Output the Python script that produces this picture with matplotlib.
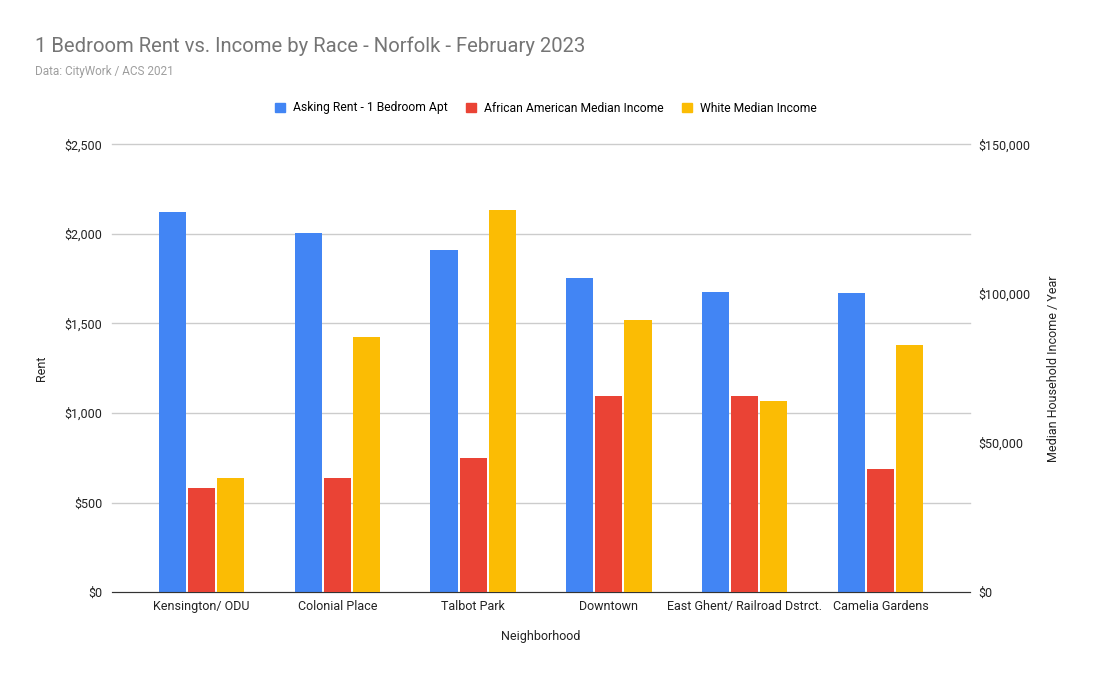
import matplotlib.pyplot as plt
import numpy as np
from matplotlib.patches import Patch
from matplotlib.ticker import FuncFormatter

plt.rcParams['font.family'] = ['Roboto', 'DejaVu Sans']

neighborhoods = ['Kensington/ ODU', 'Colonial Place', 'Talbot Park', 'Downtown',
                 'East Ghent/ Railroad Dstrct.', 'Camelia Gardens']
rent = [2123, 2006, 1911, 1754, 1676, 1670]
aa_income = [34860, 38300, 45000, 65700, 65700, 41230]
white_income = [38300, 85580, 128150, 91170, 64120, 82800]

blue = '#4285f4'
red = '#ea4335'
yellow = '#fbbc04'

fig = plt.figure(figsize=(10.93, 6.78), dpi=100)
ax = fig.add_axes([112/1093, 1 - 592/678, 858/1093, 447.5/678])
ax2 = ax.twinx()

x = np.arange(len(neighborhoods))
w = 0.2
off = 0.214
ax.bar(x - off, rent, w, color=blue, zorder=3)
ax2.bar(x, aa_income, w, color=red, zorder=3)
ax2.bar(x + off, white_income, w, color=yellow, zorder=3)

ax.set_xlim(-0.66, 5.66)
ax.set_ylim(0, 2500)
ax2.set_ylim(0, 150000)
ax.set_yticks(np.arange(0, 2501, 500))
ax2.set_yticks(np.arange(0, 150001, 50000))
ax.yaxis.set_major_formatter(FuncFormatter(lambda v, p: '${:,.0f}'.format(v)))
ax2.yaxis.set_major_formatter(FuncFormatter(lambda v, p: '${:,.0f}'.format(v)))
ax.grid(axis='y', color='#cccccc', linewidth=1, zorder=0)
ax.set_axisbelow(True)
for gl in ax.get_ygridlines():
    gl.set_clip_on(False)

for a in (ax, ax2):
    for s in a.spines.values():
        s.set_visible(False)
    a.tick_params(length=0, labelsize=9, colors='#222222')
ax.spines['bottom'].set_visible(True)
ax.spines['bottom'].set_color('#333333')
ax.spines['bottom'].set_zorder(5)
ax.tick_params(axis='y', pad=7)
ax2.tick_params(axis='y', pad=6)
ax.tick_params(axis='x', pad=6)

ax.set_xticks(x)
ax.set_xticklabels(neighborhoods)
ax.set_xlabel('Neighborhood', fontsize=9, color='#222222', labelpad=12)
ax.set_ylabel('Rent', fontsize=9, color='#222222', labelpad=12)
ax2.set_ylabel('Median Household Income / Year', fontsize=9, color='#222222', labelpad=12)

fig.text(35/1093, 1 - 46/678, '1 Bedroom Rent vs. Income by Race - Norfolk - February 2023',
         fontsize=14.6, color='#757575', va='center', ha='left')
fig.text(35/1093, 1 - 72/678, 'Data: CityWork / ACS 2021',
         fontsize=8.5, color='#9e9e9e', va='center', ha='left')

handles = [Patch(color=blue), Patch(color=red), Patch(color=yellow)]
fig.legend(handles, ['Asking Rent - 1 Bedroom Apt', 'African American Median Income',
                     'White Median Income'],
           loc='center', bbox_to_anchor=(0.4996, 1 - 108/678), ncol=3, frameon=False,
           fontsize=8.7, handlelength=0.8, handleheight=0.8, columnspacing=1.5,
           handletextpad=0.7)

fig.savefig('out.png', dpi=100)
